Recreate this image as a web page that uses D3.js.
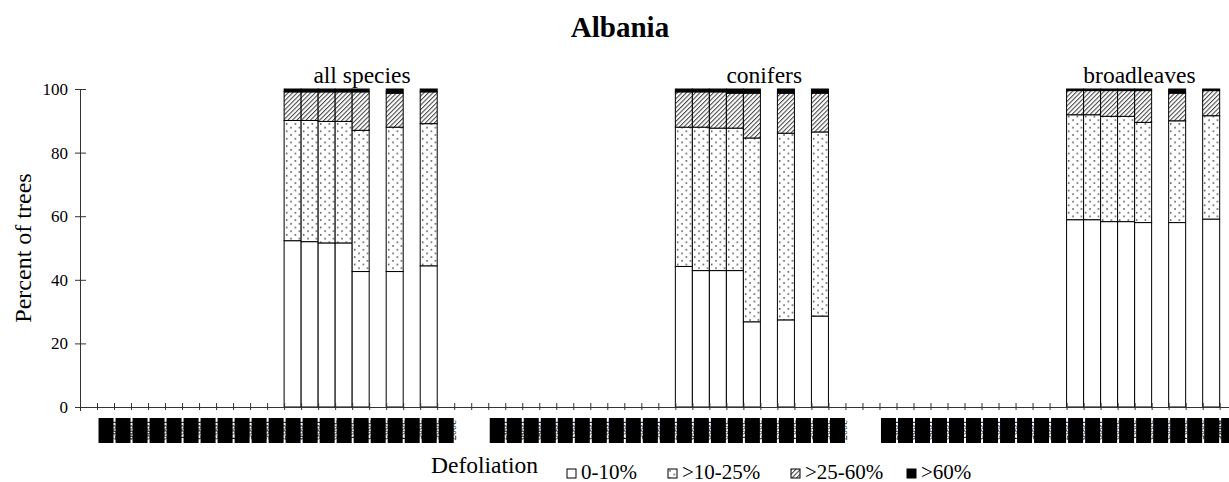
<!DOCTYPE html>
<html>
<head>
<meta charset="utf-8">
<script src="https://d3js.org/d3.v7.min.js"></script>
<style>
body { margin: 0; background: #fff; }
svg { font-family: "Liberation Serif", "Times New Roman", serif; }
.axis path { stroke: #333; }
.axis line { stroke: #333; }
.axis text { font-family: "Liberation Serif", serif; font-size: 17px; fill: #000; }
</style>
</head>
<body>
<svg width="1229" height="482"></svg>
<script>

// categories
var groups = ["all species", "conifers", "broadleaves"];
var years = [1987, 1988, 1989, 1990, 1991, 1992, 1993, 1994, 1995, 1996, 1997,
             1998, 1999, 2000, 2001, 2002, 2003, 2004, 2005, 2006, 2007];
var surveyYears = [1998, 1999, 2000, 2001, 2002, 2004, 2006];
var classes = ["0-10%", ">10-25%", ">25-60%", ">60%"];
var yTicks = [0, 20, 40, 60, 80, 100];

// percent of trees per defoliation class, one row per survey year
var allSpecies = [
  [52.3, 37.8, 9.0, 0.9],
  [52.0, 38.1, 9.0, 0.9],
  [51.6, 38.2, 9.3, 0.9],
  [51.6, 38.2, 9.3, 0.9],
  [42.6, 44.4, 12.1, 0.9],
  [42.6, 45.4, 10.7, 1.3],
  [44.4, 44.7, 10.0, 0.9]
];
var conifers = [
  [44.2, 43.8, 11.1, 0.9],
  [42.9, 45.1, 11.1, 0.9],
  [42.9, 44.8, 11.4, 0.9],
  [42.9, 44.8, 11.0, 1.3],
  [26.8, 57.8, 14.1, 1.3],
  [27.4, 58.7, 12.6, 1.3],
  [28.6, 57.9, 12.2, 1.3]
];
var broadleaves = [
  [58.9, 33.0, 7.6, 0.5],
  [58.9, 33.0, 7.6, 0.5],
  [58.3, 33.1, 8.1, 0.5],
  [58.3, 33.1, 8.1, 0.5],
  [58.0, 31.5, 10.0, 0.5],
  [58.0, 32.0, 8.7, 1.3],
  [59.1, 32.5, 7.9, 0.5]
];
var groupValues = [allSpecies, conifers, broadleaves];

var svg = d3.select("svg"),
    W = +svg.attr("width"),
    margin = {top: 89, left: 80, bottom: 407},
    step = 17.01;

// one empty slot before and after the years of every group
var slots = [];
groups.forEach(function(g) {
  slots.push(g + "|a");
  years.forEach(function(yr) { slots.push(g + "|" + yr); });
  slots.push(g + "|b");
});

var x = d3.scaleBand()
    .domain(slots)
    .range([margin.left, margin.left + slots.length * step])
    .paddingInner(0).paddingOuter(0);

var xSlot = d3.scaleLinear()
    .domain([0, slots.length])
    .range(x.range());

var y = d3.scaleLinear()
    .domain([0, 100])
    .range([margin.bottom, margin.top]);

// patterns
var defs = svg.append("defs");
var dots = defs.append("pattern")
    .attr("id", "dots").attr("patternUnits", "userSpaceOnUse")
    .attr("width", 8.5).attr("height", 7.4);
dots.append("rect").attr("width", 8.5).attr("height", 7.4).attr("fill", "#fff");
dots.append("circle").attr("cx", 2).attr("cy", 1.8).attr("r", 0.8).attr("fill", "#333");
dots.append("circle").attr("cx", 6.3).attr("cy", 5.5).attr("r", 0.8).attr("fill", "#333");

var hatch = defs.append("pattern")
    .attr("id", "hatch").attr("patternUnits", "userSpaceOnUse")
    .attr("width", 3.2).attr("height", 3.2)
    .attr("patternTransform", "rotate(45)");
hatch.append("rect").attr("width", 3.2).attr("height", 3.2).attr("fill", "#fff");
hatch.append("line").attr("x1", 0.5).attr("y1", 0).attr("x2", 0.5).attr("y2", 3.2)
    .attr("stroke", "#444").attr("stroke-width", 1.1);

var fills = d3.scaleOrdinal()
    .domain(classes)
    .range(["#fff", "url(#dots)", "url(#hatch)", "#000"]);

// bars
var stack = d3.stack().keys(d3.range(classes.length));

groups.forEach(function(g, gi) {
  var rows = groupValues[gi];
  var series = stack(rows);
  var layer = svg.append("g").selectAll("g")
    .data(series)
    .enter().append("g")
    .attr("fill", function(d) { return fills(classes[d.key]); });

  layer.selectAll("rect")
    .data(function(d) { return d; })
    .enter().append("rect")
    .attr("x", function(d, i) { return x(g + "|" + surveyYears[i]); })
    .attr("width", x.bandwidth())
    .attr("y", function(d) { return y(d[1]); })
    .attr("height", function(d) { return y(d[0]) - y(d[1]); })
    .attr("stroke", "#000")
    .attr("stroke-width", 1);
});

// x axis, ticks between slots crossing the line
var xAxis = svg.append("g")
    .attr("class", "axis")
    .attr("transform", "translate(0," + y(0) + ")")
    .call(d3.axisBottom(xSlot)
      .tickValues(d3.range(slots.length + 1))
      .tickFormat("")
      .tickSizeOuter(0)
      .tickSize(4));
xAxis.selectAll(".tick line").attr("y1", -4).attr("y2", 3);

// y axis
var yAxis = svg.append("g")
    .attr("class", "axis")
    .attr("transform", "translate(" + margin.left + ",0)")
    .call(d3.axisLeft(y)
      .tickValues(yTicks)
      .tickSizeOuter(0)
      .tickSize(5)
      .tickPadding(7));
yAxis.selectAll(".tick line").attr("x1", -5).attr("x2", 6);

// year labels under the axis, drawn as solid black blocks
var labelRow = svg.append("g");
groups.forEach(function(g) {
  var cell = labelRow.selectAll(null)
    .data(years)
    .enter().append("g")
    .attr("transform", function(d) { return "translate(" + (x(g + "|" + d) + x.bandwidth() / 2) + ",418)"; });
  cell.append("rect")
    .attr("x", -x.bandwidth() / 2 + 1.5)
    .attr("width", x.bandwidth() - 2)
    .attr("height", 25)
    .attr("fill", "#000");
  cell.append("text")
    .attr("transform", function(d) {
      // keep the label inside the page when its block runs off the right edge
      var cx = x(g + "|" + d) + x.bandwidth() / 2;
      var over = Math.max(0, cx + 13 - W);
      return "translate(" + (-over) + ",0) rotate(90)";
    })
    .attr("x", 2)
    .attr("y", -3)
    .attr("font-size", 10)
    .attr("fill", "#000")
    .text(function(d) { return d; });
});

// group labels
var labelShift = [282, 293, 277];
svg.append("g").selectAll("text")
  .data(groups)
  .enter().append("text")
  .attr("x", function(d, i) { return x(d + "|a") + labelShift[i]; })
  .attr("y", 83)
  .attr("text-anchor", "middle")
  .attr("font-size", 23.5)
  .text(function(d) { return d; });

// title
svg.append("text")
  .attr("x", 620)
  .attr("y", 37)
  .attr("text-anchor", "middle")
  .attr("font-size", 29)
  .attr("font-weight", "bold")
  .text("Albania");

// y axis title
svg.append("text")
  .attr("transform", "translate(31," + (y(50)) + ") rotate(-90)")
  .attr("text-anchor", "middle")
  .attr("font-size", 24)
  .text("Percent of trees");

// legend
svg.append("text")
  .attr("x", 431)
  .attr("y", 473)
  .attr("font-size", 23.5)
  .text("Defoliation");

var legendX = [567, 668, 791, 907];
var leg = svg.append("g").selectAll("g")
  .data(classes)
  .enter().append("g")
  .attr("transform", function(d, i) { return "translate(" + legendX[i] + ",469)"; });
leg.append("rect")
  .attr("width", 9).attr("height", 9)
  .attr("fill", function(d) { return fills(d); })
  .attr("stroke", "#000").attr("stroke-width", 1);
leg.append("text")
  .attr("x", 14)
  .attr("y", 9.5)
  .attr("font-size", 21)
  .text(function(d) { return d; });

</script>
</body>
</html>
